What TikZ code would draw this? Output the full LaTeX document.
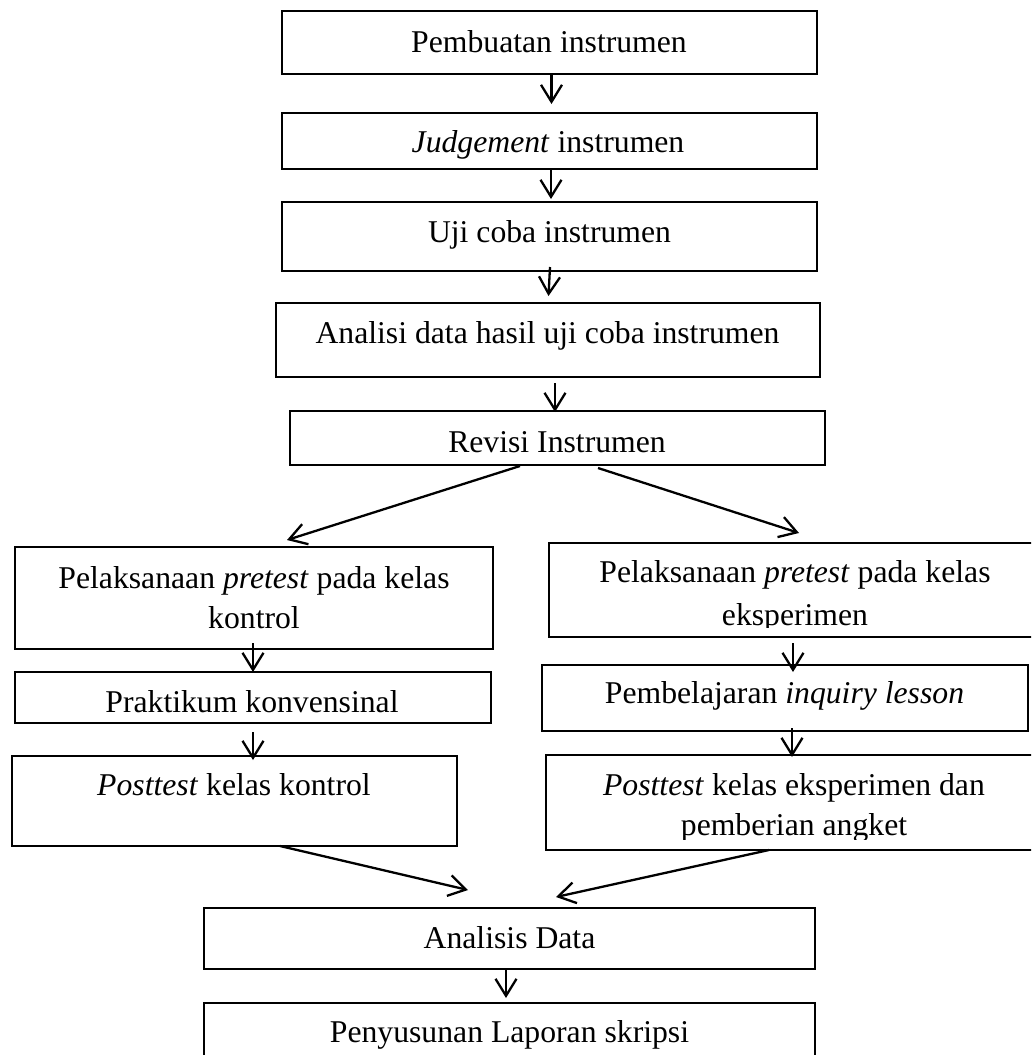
\documentclass[tikz,border=0pt]{standalone}
\usepackage{fontspec}
\setmainfont{Liberation Serif}
\usetikzlibrary{arrows.meta}
\begin{document}
\begin{tikzpicture}[x=1pt,y=-1pt,
  box/.style={draw, line width=2.6pt, inner sep=0pt, outer sep=0pt, rectangle},
  txt/.style={inner sep=0pt, outer sep=0pt, anchor=base, font=\fontsize{31.7}{40}\selectfont},
  arr/.style={line width=2.3pt, -{Straight Barb[length=17pt,width=21pt]}}]
\useasboundingbox (0,0) rectangle (1031,1055);
\clip (0,0) rectangle (1031,1055);
\fill[white] (0,0) rectangle (1031,1055);

% boxes
\node[box, minimum width=535pt, minimum height=63pt] (b1) at (549.5,42.5) {};
\node[box, minimum width=535pt, minimum height=56pt] (b2) at (549.5,141) {};
\node[box, minimum width=535pt, minimum height=69pt] (b3) at (549.5,236.5) {};
\node[box, minimum width=544pt, minimum height=74pt] (b4) at (548,340) {};
\node[box, minimum width=535pt, minimum height=54pt] (b5) at (557.5,438) {};
\node[box, minimum width=478pt, minimum height=102pt] (bL1) at (254,598) {};
\node[box, minimum width=492pt, minimum height=94pt] (bR1) at (795,590) {};
\node[box, minimum width=476pt, minimum height=51pt] (bL2) at (253,697.5) {};
\node[box, minimum width=486pt, minimum height=66pt] (bR2) at (785,698) {};
\node[box, minimum width=445pt, minimum height=90pt] (bL3) at (234.5,801) {};
\node[box, minimum width=496pt, minimum height=95pt] (bR3) at (794,802.5) {};
\node[box, minimum width=611pt, minimum height=61pt] (bA) at (509.5,938.5) {};
\node[box, minimum width=611pt, minimum height=72pt] (bP) at (509.5,1039) {};

% texts
\node[txt] (t1) at (549,52) {Pembuatan instrumen};
\node[txt] (t2) at (548,152) {\textit{Judgement} instrumen};
\node[txt] (t3) at (549.5,242) {Uji coba instrumen};
\node[txt] (t4) at (547.5,343) {Analisi data hasil uji coba instrumen};
\node[txt] (t5) at (557,452) {Revisi Instrumen};
\node[txt] (tL1a) at (254,588) {Pelaksanaan \textit{pretest} pada kelas};
\node[txt] (tL1b) at (254,628) {kontrol};
\node[txt] (tR1a) at (795,582) {Pelaksanaan \textit{pretest} pada kelas};
\begin{scope}
\clip (549,543) rectangle (1031,627);
\node[txt] (tR1b) at (795,625) {eksperimen};
\end{scope}
\node[txt] (tL2) at (252,712) {Praktikum konvensinal};
\node[txt] (tR2) at (784.5,703) {Pembelajaran \textit{inquiry lesson}};
\node[txt] (tL3) at (234,795) {\textit{Posttest} kelas kontrol};
\node[txt] (tR3a) at (794,795) {\textit{Posttest} kelas eksperimen dan};
\begin{scope}
\clip (546,755) rectangle (1031,839);
\node[txt] (tR3b) at (794,835) {pemberian angket};
\end{scope}
\node[txt] (tA) at (509.5,948) {Analisis Data};
\node[txt] (tP) at (509.5,1042) {Penyusunan Laporan skripsi};

% connectors
\draw[arr] ([xshift=2pt]b1.south) -- ([xshift=2pt,yshift=9pt]b2.north);
\draw[arr] ([xshift=1.5pt]b2.south) -- ([xshift=1.5pt,yshift=3pt]b3.north);
\draw[arr] ([xshift=0.5pt,yshift=4pt]b3.south) -- ([xshift=0.5pt,yshift=7pt]b4.north);
\draw[arr] ([xshift=7pt,yshift=-6pt]b4.south) -- ([xshift=-2.5pt,yshift=-1pt]b5.north);
\draw[arr] ([xshift=-37.5pt,yshift=-1pt]b5.south) -- ([xshift=33pt,yshift=7pt]bL1.north);
\draw[arr] ([xshift=40.5pt,yshift=-3pt]b5.south) -- ([xshift=4pt,yshift=10pt]bR1.north);
\draw[arr] ([xshift=-1pt,yshift=6pt]bL1.south) -- ([yshift=0pt]bL2.north);
\draw[arr] ([xshift=-2pt,yshift=-6pt]bR1.south) -- ([xshift=8pt,yshift=-7pt]bR2.north);
\draw[arr] ([yshift=-9pt]bL2.south) -- ([xshift=18.5pt,yshift=-4pt]bL3.north);
\draw[arr] ([xshift=7pt,yshift=3pt]bR2.south) -- ([xshift=-2pt,yshift=-2pt]bR3.north);
\draw[arr] ([xshift=45.5pt]bL3.south) -- ([xshift=-41.5pt,yshift=18pt]bA.north);
\draw[arr] ([xshift=-25pt]bR3.south) -- ([xshift=46.5pt,yshift=11pt]bA.north);
\draw[arr] ([xshift=-3.5pt]bA.south) -- ([xshift=-3.5pt,yshift=5pt]bP.north);
\end{tikzpicture}
\end{document}
